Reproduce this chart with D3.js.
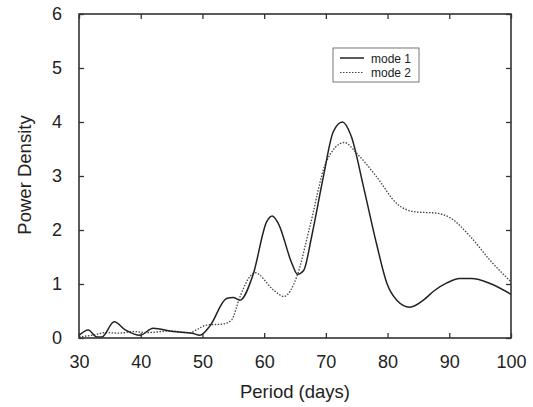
<!DOCTYPE html>
<html><head><meta charset="utf-8">
<script src="https://cdn.jsdelivr.net/npm/d3@7"></script>
<style>body{margin:0;background:#fff}svg{display:block}text{font-family:"Liberation Sans",Arial,sans-serif;fill:#222}</style>
</head><body><svg width="533" height="407"></svg>
<script>
const mode1Period = [30,31.5,32.9,33.7,35.7,37.5,39.9,42,45.2,48.3,49.6,51.2,53.9,55,56.1,58.2,60.4,61.3,62.3,64.5,65.4,66.4,67.7,69.6,71.2,72.7,74.1,76.1,78.2,79.9,81.5,83.6,85.8,87.5,89.6,91.7,93.6,96.6,100];
const mode1Power  = [0.05,0.15,0.02,0.02,0.3,0.15,0.05,0.18,0.12,0.09,0.05,0.22,0.73,0.75,0.7,1.17,2.15,2.26,2.12,1.38,1.18,1.25,1.88,2.99,3.82,4.0,3.74,2.8,1.75,1.01,0.7,0.57,0.7,0.87,1.02,1.1,1.1,1.01,0.81];
const mode2Period = [30,32,34.5,36.5,38.8,41,44.7,48,49,50.7,53.4,54.7,56.1,57.7,58.5,61.5,63.2,65.3,67.4,70.1,73,75,78.2,81.5,84.2,88,90.1,93.4,96.6,100];
const mode2Power  = [0.02,0.05,0.1,0.09,0.12,0.1,0.13,0.1,0.15,0.24,0.26,0.33,0.77,1.14,1.21,0.89,0.77,1.14,2.06,3.27,3.62,3.42,2.99,2.49,2.34,2.31,2.23,1.88,1.44,1.04];
const xTicks = [30,40,50,60,70,80,90,100];
const yTicks = [0,1,2,3,4,5,6];
const seriesNames = ["mode 1","mode 2"];

const svg = d3.select("svg");
const L=79,R=511,T=14,B=338;
const x = d3.scaleLinear().domain([30,100]).range([L,R]);
const y = d3.scaleLinear().domain([0,6]).range([B,T]);
const axisColor="#333";

const line = d3.line().x(d=>x(d[0])).y(d=>y(d[1])).curve(d3.curveMonotoneX);
const d1 = mode1Period.map((p,i)=>[p,mode1Power[i]]);
const d2 = mode2Period.map((p,i)=>[p,mode2Power[i]]);
svg.append("path").attr("d",line(d2)).attr("fill","none").attr("stroke","#444").attr("stroke-width",1.3).attr("stroke-dasharray","1.5,1.5");
svg.append("path").attr("d",line(d1)).attr("fill","none").attr("stroke","#222").attr("stroke-width",1.5);

svg.append("rect").attr("x",L).attr("y",T).attr("width",R-L).attr("height",B-T).attr("fill","none").attr("stroke",axisColor).attr("stroke-width",1.6);

const fmt = d3.format("d");
const gBottom = svg.append("g").attr("transform",`translate(0,${B})`).call(d3.axisBottom(x).tickValues(xTicks).tickSize(-5).tickPadding(17).tickFormat(fmt));
const gTop = svg.append("g").attr("transform",`translate(0,${T})`).call(d3.axisTop(x).tickValues(xTicks).tickSize(-5).tickFormat(""));
const gLeft = svg.append("g").attr("transform",`translate(${L},0)`).call(d3.axisLeft(y).tickValues(yTicks).tickSize(-5).tickPadding(17).tickFormat(fmt));
const gRight = svg.append("g").attr("transform",`translate(${R},0)`).call(d3.axisRight(y).tickValues(yTicks).tickSize(-5).tickFormat(""));
[gBottom,gTop,gLeft,gRight].forEach(g=>{
  g.select(".domain").remove();
  g.selectAll("line").attr("stroke",axisColor).attr("stroke-width",1.3);
  g.selectAll("text").attr("font-size",18).attr("fill","#222").attr("font-family","Liberation Sans, Arial, sans-serif");
});

svg.append("text").attr("x",(L+R)/2).attr("y",398).attr("text-anchor","middle").attr("font-size",18.5).text("Period (days)");
svg.append("text").attr("transform","translate(31,175) rotate(-90)").attr("text-anchor","middle").attr("font-size",18.5).text("Power Density");

const lg = svg.append("g");
lg.append("rect").attr("x",333).attr("y",48).attr("width",86).attr("height",34).attr("fill","#fff").attr("stroke","#555").attr("stroke-width",0.8);
seriesNames.forEach((n,i)=>{
  const yy = 58+i*14.5;
  lg.append("line").attr("x1",340).attr("x2",364).attr("y1",yy).attr("y2",yy)
    .attr("stroke",i?"#444":"#222").attr("stroke-width",i?1.2:1.5).attr("stroke-dasharray",i?"1.5,1.5":null);
  lg.append("text").attr("x",371).attr("y",yy+4.5).attr("font-size",12).text(n);
});
</script></body></html>
